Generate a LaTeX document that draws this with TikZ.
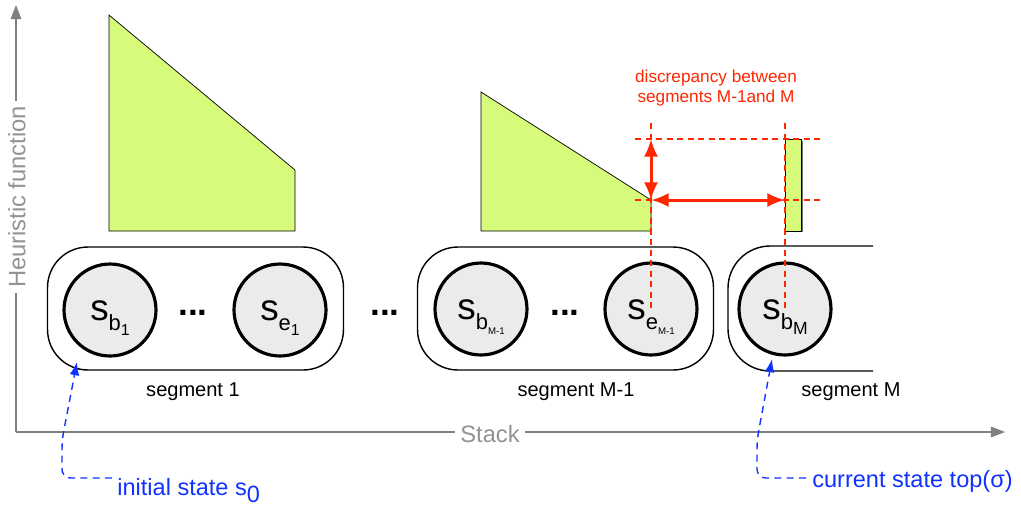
\documentclass[tikz,border=0pt]{standalone}
\usepackage{fontspec}
\setmainfont{Liberation Sans}
\usepackage{tikz}
\usetikzlibrary{arrows.meta}
\definecolor{leaf}{RGB}{214,250,122}
\definecolor{stategray}{RGB}{235,235,235}
\definecolor{discred}{RGB}{255,38,0}
\definecolor{noteblue}{RGB}{16,50,255}
\definecolor{axisgray}{RGB}{128,128,128}
\tikzstyle{axis}=[draw=axisgray, line width=0.7pt, -{Triangle[length=8pt,width=6pt]}]
\tikzstyle{axislabel}=[fill=white, text=axisgray!85, font=\fontsize{13.5pt}{16pt}\selectfont, inner sep=3pt]
\tikzstyle{hval}=[draw=black, fill=leaf, line width=0.4pt]
\tikzstyle{seg}=[rectangle, rounded corners=23pt, draw, line width=0.8pt, minimum width=5.92cm, minimum height=2.46cm]
\tikzstyle{segopen}=[draw, line width=0.8pt, rounded corners=24pt]
\tikzstyle{st}=[circle, draw, line width=1.8pt, fill=stategray, minimum size=1.84cm, inner sep=0pt, font=\fontsize{21pt}{24pt}\selectfont, text height=11.4pt, text depth=0pt]
\tikzstyle{dots}=[font=\bfseries\fontsize{20pt}{24pt}\selectfont, inner sep=0pt]
\tikzstyle{seglabel}=[font=\fontsize{11.4pt}{14pt}\selectfont]
\tikzstyle{guide}=[draw=discred, color=discred, line width=0.65pt, dash pattern=on 3.5pt off 2.5pt]
\tikzstyle{gap}=[draw=discred, line width=1.7pt, {Latex[length=10pt,width=8pt]}-{Latex[length=10pt,width=8pt]}]
\tikzstyle{disc}=[text=discred, align=center, font=\fontsize{9.8pt}{11.3pt}\selectfont]
\tikzstyle{note}=[text=noteblue, font=\fontsize{13.4pt}{16pt}\selectfont, inner sep=0pt, anchor=base west]
\tikzstyle{pointer}=[draw=noteblue, line width=0.8pt, dash pattern=on 4pt off 3pt, rounded corners=5pt, -{Latex[length=7.5pt,width=5.5pt]}]
% state label: s, first index, second index (size)
\newcommand{\stname}[3]{s\raisebox{-5.7pt}{\fontsize{12.5pt}{13pt}\selectfont #1\raisebox{-3pt}{\fontsize{#3}{#3}\selectfont #2}}}

\begin{document}
\begin{tikzpicture}[x=0.02cm, y=-0.02cm]
	\useasboundingbox (0,0) rectangle (1021,508);
	% axes
	\coordinate (origin) at (16,432);
	\coordinate (ytip) at (16,5);
	\coordinate (xtip) at (1005,432);
	\draw[axis] (origin) -- (ytip);
	\draw[axis] (origin) -- (xtip);
	\draw (17,197) node[axislabel, rotate=90] (hlabel) {Heuristic function};
	\draw (490,434) node[axislabel] (slabel) {Stack};
	% heuristic values
	\draw[hval] (109,15) -- (295,170) -- (295,231) -- (109,231) -- cycle;
	\draw[hval] (481,92) -- (651,200) -- (651,231) -- (481,231) -- cycle;
	\draw[black!55, line width=1.2pt] (802,141) -- (802,232);
	\draw[hval] (785,139) rectangle (801,231);
	% segments
	\draw (195.5,308.5) node[seg] (seg1) {};
	\draw (565.5,308.5) node[seg] (segm1) {};
	\draw[segopen] (873,246) -- (728,246) -- (728,371) -- (873,371);
	\draw (110,310) node[st] (sb1) {\stname{b}{1}{9pt}};
	\draw (280,310) node[st] (se1) {\stname{e}{1}{9pt}};
	\draw (481,309) node[st] (sbm1) {\stname{b}{M-1}{5.5pt}};
	\draw (651,309) node[st] (sem1) {\stname{e}{M-1}{5.5pt}};
	\draw (785,309) node[st] (sbm) {\stname{b}{M}{10pt}};
	\draw (193,313) node[dots] (dots1) {...};
	\draw (385,313) node[dots] (dots2) {...};
	\draw (565,313) node[dots] (dots3) {...};
	\draw (193,392) node[seglabel] (lab1) {segment 1};
	\draw (576,392) node[seglabel] (labm1) {segment M-1};
	\draw (851,392) node[seglabel] (labm) {segment M};
	% discrepancy
	\coordinate (gtop1) at (651,123);
	\coordinate (gtop2) at (785,123);
	\draw[guide] (gtop1) -- (sem1.center);
	\draw[guide] (gtop2) -- (sbm.center);
	\draw[guide] (635,139) -- (822,139);
	\draw[guide] (635,200) -- (822,200);
	\coordinate (dtop) at (651,139);
	\coordinate (dfoot) at (651,200);
	\coordinate (dbar) at (785,200);
	\draw[gap] (dtop) -- (dfoot);
	\draw[gap] (dfoot) -- (dbar);
	\draw (716,88) node[disc] (disc) {discrepancy between\\segments M-1and M};
	% notes
	\draw (117,495) node[note] (init) {initial state s\raisebox{-4.5pt}{0}};
	\draw (812,487) node[note] (curr) {current state top(σ)};
	\coordinate (tip1) at (77,362);
	\coordinate (tip2) at (772,359);
	\draw[pointer] ([shift={(-5,-17)}]init.base west) -- (62,478) -- (62,440) -- (tip1);
	\draw[pointer] ([shift={(-6,-9)}]curr.base west) -- (757,478) -- (757,440) -- (tip2);
\end{tikzpicture}
\end{document}
